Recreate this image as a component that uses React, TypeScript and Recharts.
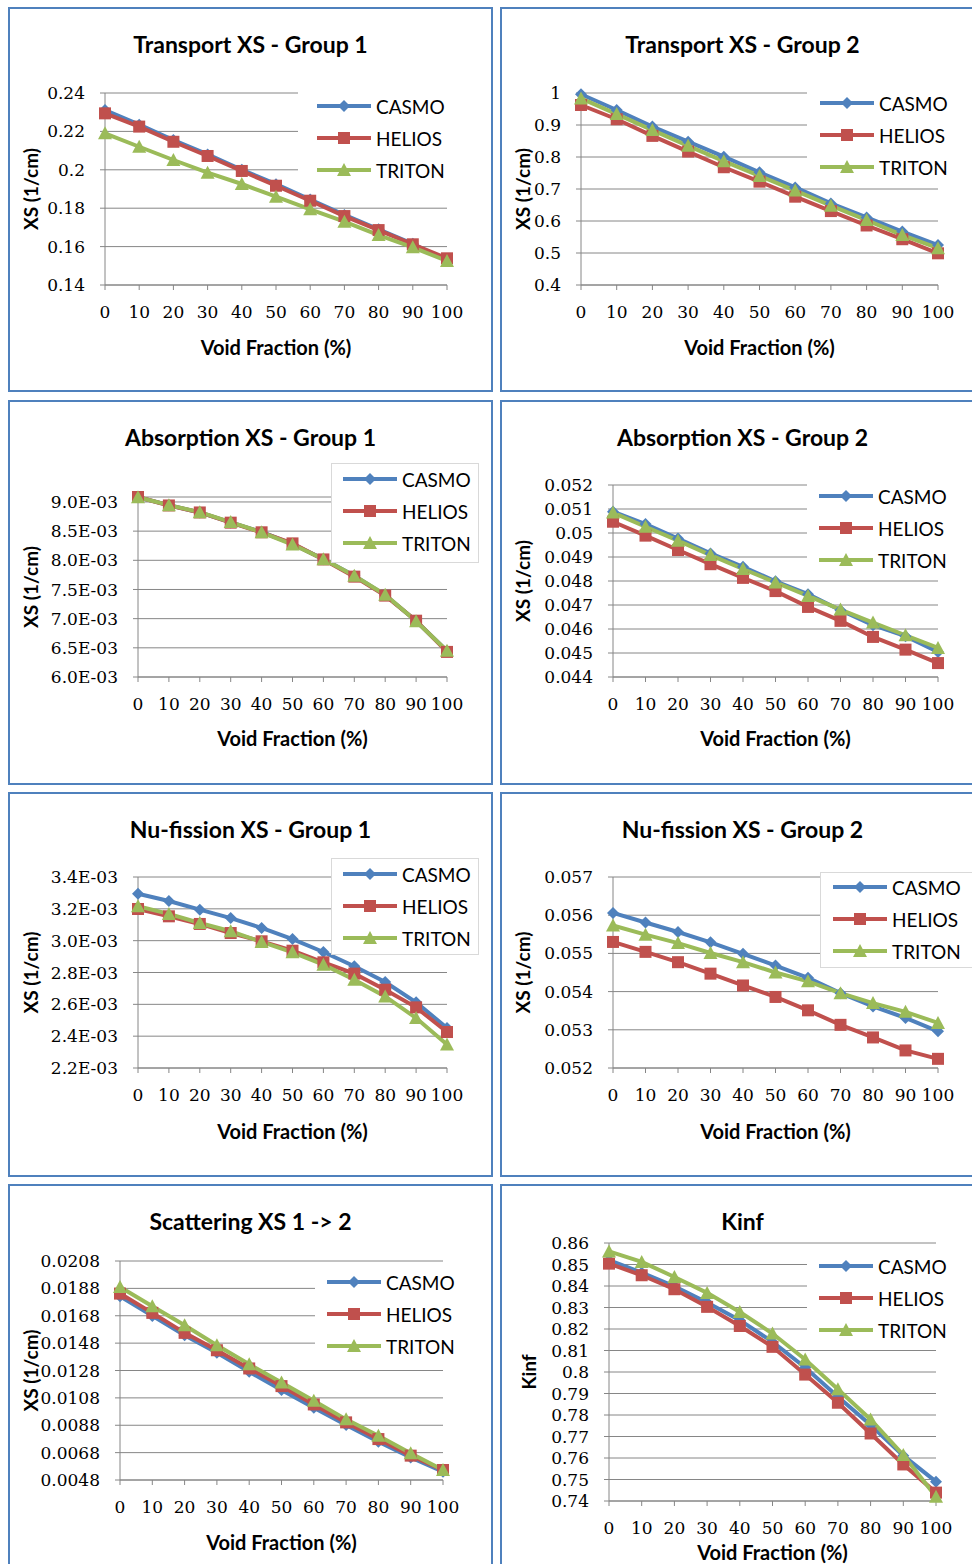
import React from "react";
import { CartesianGrid, Legend, Line, LineChart, XAxis, YAxis } from "recharts";

const voidFraction = [0, 10, 20, 30, 40, 50, 60, 70, 80, 90, 100];

// Transport XS - Group 1
const trG1Casmo = [0.2311, 0.2235, 0.2155, 0.208, 0.2, 0.1925, 0.1845, 0.1765, 0.169, 0.1615, 0.1525];
const trG1Helios = [0.2294, 0.2225, 0.2146, 0.2072, 0.1994, 0.1917, 0.1839, 0.1759, 0.1686, 0.1612, 0.1539];
const trG1Triton = [0.219, 0.212, 0.2051, 0.1985, 0.1926, 0.186, 0.1794, 0.173, 0.166, 0.1596, 0.1525];
const trG1Ticks = [0.14, 0.16, 0.18, 0.2, 0.22, 0.24];

// Transport XS - Group 2
const trG2Casmo = [0.996, 0.947, 0.895, 0.848, 0.801, 0.752, 0.705, 0.655, 0.611, 0.567, 0.525];
const trG2Helios = [0.9625, 0.918, 0.866, 0.817, 0.768, 0.723, 0.676, 0.631, 0.586, 0.543, 0.499];
const trG2Triton = [0.983, 0.934, 0.884, 0.835, 0.787, 0.741, 0.695, 0.648, 0.603, 0.556, 0.515];
const trG2Ticks = [0.4, 0.5, 0.6, 0.7, 0.8, 0.9, 1];

// Absorption XS - Group 1
const absG1Casmo = [0.00908, 0.008945, 0.00882, 0.00865, 0.008485, 0.00828, 0.00802, 0.007735, 0.007405, 0.00696, 0.006445];
const absG1Helios = [0.009085, 0.00894, 0.00882, 0.008645, 0.00848, 0.00829, 0.008015, 0.00772, 0.007395, 0.006965, 0.00643];
const absG1Triton = [0.00908, 0.008945, 0.008825, 0.008655, 0.00848, 0.00827, 0.00802, 0.007735, 0.00741, 0.006955, 0.00645];
const absG1Ticks = [0.006, 0.0065, 0.007, 0.0075, 0.008, 0.0085, 0.009];

// Absorption XS - Group 2
const absG2Casmo = [0.05089, 0.05037, 0.04977, 0.04915, 0.04859, 0.04799, 0.04745, 0.04678, 0.04616, 0.0457, 0.04504];
const absG2Helios = [0.05047, 0.04989, 0.04929, 0.0487, 0.04813, 0.04758, 0.04692, 0.04634, 0.04567, 0.04514, 0.04458];
const absG2Triton = [0.05085, 0.05026, 0.04968, 0.04908, 0.0485, 0.04794, 0.04738, 0.04681, 0.04627, 0.04574, 0.04521];
const absG2Ticks = [0.044, 0.045, 0.046, 0.047, 0.048, 0.049, 0.05, 0.051, 0.052];

// Nu-fission XS - Group 1
const nfG1Casmo = [0.003295, 0.003249, 0.003195, 0.003142, 0.00308, 0.00301, 0.002929, 0.002839, 0.00274, 0.002613, 0.002451];
const nfG1Helios = [0.003199, 0.003153, 0.003105, 0.003048, 0.002996, 0.002937, 0.002864, 0.002793, 0.002692, 0.002581, 0.002426];
const nfG1Triton = [0.003216, 0.003168, 0.003111, 0.003059, 0.002992, 0.002927, 0.002849, 0.002755, 0.00265, 0.002514, 0.002347];
const nfG1Ticks = [0.0022, 0.0024, 0.0026, 0.0028, 0.003, 0.0032, 0.0034];

// Nu-fission XS - Group 2
const nfG2Casmo = [0.05606, 0.05581, 0.05556, 0.05529, 0.05499, 0.05468, 0.05436, 0.05396, 0.05361, 0.05331, 0.05296];
const nfG2Helios = [0.0553, 0.05504, 0.05477, 0.05447, 0.05416, 0.05386, 0.05351, 0.05313, 0.0528, 0.05246, 0.05224];
const nfG2Triton = [0.05573, 0.05549, 0.05527, 0.05501, 0.05477, 0.0545, 0.05427, 0.05396, 0.0537, 0.05347, 0.05318];
const nfG2Ticks = [0.052, 0.053, 0.054, 0.055, 0.056, 0.057];

// Scattering XS 1 -> 2
const scCasmo = [0.01822, 0.01679, 0.01538, 0.01409, 0.0127, 0.01137, 0.01008, 0.00881, 0.0076, 0.00645, 0.00541];
const scHelios = [0.01842, 0.01701, 0.01555, 0.01428, 0.01295, 0.01166, 0.01032, 0.00901, 0.00779, 0.00658, 0.00553];
const scTriton = [0.0189, 0.01749, 0.01611, 0.01465, 0.01326, 0.01192, 0.01059, 0.00923, 0.00803, 0.00675, 0.00553];
const scTicks = [0.0048, 0.0068, 0.0088, 0.0108, 0.0128, 0.0148, 0.0168, 0.0188, 0.0208];

// Kinf
const kinfCasmo = [0.852, 0.8462, 0.8399, 0.8323, 0.8241, 0.814, 0.8021, 0.7885, 0.7753, 0.7611, 0.749];
const kinfHelios = [0.8504, 0.845, 0.8385, 0.8303, 0.8214, 0.8117, 0.7988, 0.7857, 0.7714, 0.757, 0.7439];
const kinfTriton = [0.8561, 0.8512, 0.8442, 0.8368, 0.8279, 0.8179, 0.8058, 0.792, 0.7779, 0.7614, 0.742];
const kinfTicks = [0.74, 0.75, 0.76, 0.77, 0.78, 0.79, 0.8, 0.81, 0.82, 0.83, 0.84, 0.85, 0.86];

const seriesDefs = [
  { key: "casmo", name: "CASMO", color: "#4F81BD", shape: "diamond" },
  { key: "helios", name: "HELIOS", color: "#C0504D", shape: "square" },
  { key: "triton", name: "TRITON", color: "#9BBB59", shape: "triangle" },
];

const SANS = "Lato, 'Open Sans', sans-serif";
const SERIF = "'DejaVu Serif', serif";
const GRID = "#868686";
const PANEL_W = 485;
const PANEL_H = 385;
const BORDER = 2;

const general = (v: number) => String(+v.toFixed(4));
const sci = (v: number) => (v * 1000).toFixed(1) + "E-03";

const buildRows = (c: number[], h: number[], t: number[]) =>
  voidFraction.map((vf, i) => ({ vf, casmo: c[i], helios: h[i], triton: t[i] }));

// page coords for each panel: frame, plot box, legend box, label positions
const panels = [
  {
    title: "Transport XS - Group 1", ylabel: "XS (1/cm)", px: 8, py: 7,
    plot: { l: 105, r: 447, t: 93, b: 285 }, ticks: trG1Ticks, fmt: general,
    rows: buildRows(trG1Casmo, trG1Helios, trG1Triton),
    legend: { x: 298, y: 86, w: 170, h: 100, lineX: 18, rowY: 20, border: false },
    ylabelX: 30, xlabelY: 347,
  },
  {
    title: "Transport XS - Group 2", ylabel: "XS (1/cm)", px: 500, py: 7,
    plot: { l: 581, r: 938, t: 93, b: 285 }, ticks: trG2Ticks, fmt: general,
    rows: buildRows(trG2Casmo, trG2Helios, trG2Triton),
    legend: { x: 807, y: 83, w: 170, h: 100, lineX: 12, rowY: 20, border: false },
    ylabelX: 522, xlabelY: 347,
  },
  {
    title: "Absorption XS - Group 1", ylabel: "XS (1/cm)", px: 8, py: 400,
    plot: { l: 138, r: 447, t: 497, b: 677 }, ticks: absG1Ticks, fmt: sci,
    rows: buildRows(absG1Casmo, absG1Helios, absG1Triton),
    legend: { x: 331, y: 463, w: 148, h: 100, lineX: 11, rowY: 16, border: true },
    ylabelX: 30, xlabelY: 738,
  },
  {
    title: "Absorption XS - Group 2", ylabel: "XS (1/cm)", px: 500, py: 400,
    plot: { l: 613, r: 938, t: 485, b: 677 }, ticks: absG2Ticks, fmt: general,
    rows: buildRows(absG2Casmo, absG2Helios, absG2Triton),
    legend: { x: 807, y: 478, w: 170, h: 100, lineX: 11, rowY: 18, border: false },
    ylabelX: 522, xlabelY: 738,
  },
  {
    title: "Nu-fission XS - Group 1", ylabel: "XS (1/cm)", px: 8, py: 792,
    plot: { l: 138, r: 447, t: 877, b: 1068 }, ticks: nfG1Ticks, fmt: sci,
    rows: buildRows(nfG1Casmo, nfG1Helios, nfG1Triton),
    legend: { x: 331, y: 858, w: 148, h: 97, lineX: 11, rowY: 16, border: true },
    ylabelX: 30, xlabelY: 1131,
  },
  {
    title: "Nu-fission XS - Group 2", ylabel: "XS (1/cm)", px: 500, py: 792,
    plot: { l: 613, r: 938, t: 877, b: 1068 }, ticks: nfG2Ticks, fmt: general,
    rows: buildRows(nfG2Casmo, nfG2Helios, nfG2Triton),
    legend: { x: 820, y: 872, w: 170, h: 96, lineX: 12, rowY: 15, border: true },
    ylabelX: 522, xlabelY: 1131,
  },
  {
    title: "Scattering XS 1 -> 2", ylabel: "XS (1/cm)", px: 8, py: 1184,
    plot: { l: 120, r: 443, t: 1261, b: 1480 }, ticks: scTicks, fmt: general,
    rows: buildRows(scCasmo, scHelios, scTriton),
    legend: { x: 315, y: 1268, w: 160, h: 90, lineX: 11, rowY: 14, border: false },
    ylabelX: 30, xlabelY: 1542,
  },
  {
    title: "Kinf", ylabel: "Kinf", px: 500, py: 1184,
    plot: { l: 609, r: 936, t: 1243, b: 1501 }, ticks: kinfTicks, fmt: general,
    rows: buildRows(kinfCasmo, kinfHelios, kinfTriton),
    legend: { x: 807, y: 1250, w: 170, h: 92, lineX: 11, rowY: 16, border: false },
    ylabelX: 528, xlabelY: 1552,
  },
];

const marker = (shape: string, cx: number, cy: number, color: string, key?: any) => {
  if (shape === "diamond") {
    return <path key={key} d={`M${cx},${cy - 6}L${cx + 6},${cy}L${cx},${cy + 6}L${cx - 6},${cy}Z`} fill={color} />;
  }
  if (shape === "square") {
    return <rect key={key} x={cx - 6} y={cy - 6} width={12} height={12} fill={color} />;
  }
  return <path key={key} d={`M${cx},${cy - 7}L${cx + 7},${cy + 6}L${cx - 7},${cy + 6}Z`} fill={color} />;
};

function Panel({ p }: { p: (typeof panels)[number] }) {
  const innerW = PANEL_W - 2 * BORDER;
  const innerH = PANEL_H - 2 * BORDER;
  const ox = p.px + BORDER;
  const oy = p.py + BORDER;
  const yAxisW = p.plot.l - ox;
  const xAxisH = oy + innerH - p.plot.b;
  const margin = { top: p.plot.t - oy, right: ox + innerW - p.plot.r, left: 0, bottom: 0 };
  const ticks = p.ticks;

  const renderLegend = () => (
    <div
      style={{
        position: "relative",
        width: p.legend.w,
        height: p.legend.h,
        background: "#fff",
        border: p.legend.border ? "1px solid #D9D9D9" : "none",
        boxSizing: "border-box",
      }}
    >
      {seriesDefs.map((s, i) => (
        <div
          key={s.key}
          style={{
            position: "absolute",
            left: p.legend.lineX - (p.legend.border ? 1 : 0),
            top: p.legend.rowY + i * 32 - 12 - (p.legend.border ? 1 : 0),
            height: 24,
            display: "flex",
            alignItems: "center",
            whiteSpace: "nowrap",
          }}
        >
          <svg width={56} height={16} style={{ display: "block" }}>
            <line x1={1} y1={8} x2={55} y2={8} stroke={s.color} strokeWidth={4} />
            {marker(s.shape, 28, 8, s.color)}
          </svg>
          <span style={{ marginLeft: 4, fontFamily: SANS, fontSize: 19, color: "#000" }}>{s.name}</span>
        </div>
      ))}
    </div>
  );

  return (
    <div
      style={{
        position: "absolute",
        left: p.px,
        top: p.py,
        width: PANEL_W,
        height: PANEL_H,
        border: `${BORDER}px solid #4F81BD`,
        boxSizing: "border-box",
        background: "#fff",
      }}
    >
      <div
        style={{
          position: "absolute",
          left: 0,
          top: 37 - BORDER - 15,
          width: innerW,
          textAlign: "center",
          fontFamily: SANS,
          fontWeight: 700,
          fontSize: 23,
          lineHeight: "30px",
          color: "#000",
        }}
      >
        {p.title}
      </div>
      <LineChart width={innerW} height={innerH} data={p.rows} margin={margin}>
        <CartesianGrid horizontal vertical={false} stroke={GRID} strokeWidth={1} />
        <XAxis
          dataKey="vf"
          type="number"
          domain={[0, 100]}
          ticks={voidFraction}
          height={xAxisH}
          stroke={GRID}
          tickSize={5}
          tickMargin={16}
          tick={{ fontSize: 17, fontFamily: SERIF, fill: "#000" }}
          label={{
            content: () => (
              <text
                x={(p.plot.l + p.plot.r) / 2 - ox}
                y={p.xlabelY - oy}
                textAnchor="middle"
                dominantBaseline="central"
                fontFamily={SANS}
                fontWeight={700}
                fontSize={20}
                fill="#000"
              >
                Void Fraction (%)
              </text>
            ),
          }}
        />
        <YAxis
          type="number"
          domain={[ticks[0], ticks[ticks.length - 1]]}
          ticks={ticks}
          interval={0}
          width={yAxisW}
          stroke={GRID}
          tickSize={5}
          tickMargin={15}
          tickFormatter={p.fmt}
          tick={{ fontSize: 17, fontFamily: SERIF, fill: "#000" }}
          label={{
            content: () => {
              const cx = p.ylabelX - ox;
              const cy = (p.plot.t + p.plot.b) / 2 - oy;
              return (
                <text
                  x={cx}
                  y={cy}
                  transform={`rotate(-90 ${cx} ${cy})`}
                  textAnchor="middle"
                  dominantBaseline="central"
                  fontFamily={SANS}
                  fontWeight={700}
                  fontSize={19}
                  fill="#000"
                >
                  {p.ylabel}
                </text>
              );
            },
          }}
        />
        <Legend
          layout="vertical"
          align="center"
          verticalAlign="middle"
          content={renderLegend}
          wrapperStyle={{ left: p.legend.x - ox, top: p.legend.y - oy, width: p.legend.w, height: p.legend.h }}
        />
        {seriesDefs.map((s) => (
          <Line
            key={s.key}
            type="linear"
            dataKey={s.key}
            name={s.name}
            stroke={s.color}
            strokeWidth={4}
            isAnimationActive={false}
            activeDot={false}
            dot={(d: any) => marker(s.shape, d.cx, d.cy, s.color, `${s.key}-${d.index}`)}
          />
        ))}
      </LineChart>
    </div>
  );
}

export default function App() {
  return (
    <div
      style={{
        position: "absolute",
        left: 0,
        top: 0,
        width: 972,
        height: 1564,
        overflow: "hidden",
        background: "#fff",
      }}
    >
      {panels.map((p) => (
        <Panel key={p.title} p={p} />
      ))}
    </div>
  );
}
